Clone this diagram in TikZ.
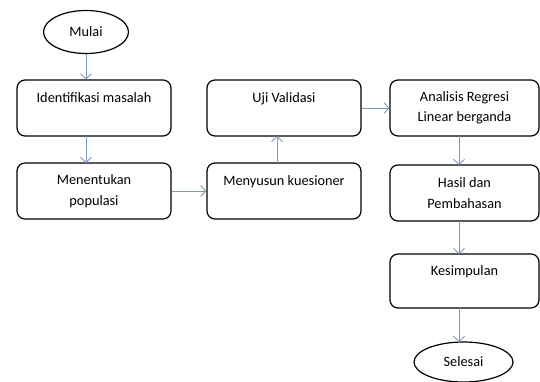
\documentclass[tikz,border=0pt]{standalone}
\usepackage{fontspec}
\setmainfont{Carlito}
\usetikzlibrary{shapes.geometric,arrows.meta}
\definecolor{arrowblue}{HTML}{7F98BC}
\begin{document}
\begin{tikzpicture}[x=1pt,y=-1pt,
  every node/.style={font=\fontsize{14.3}{20.5}\selectfont, inner sep=0pt},
  procbox/.style={draw=black, line width=1.2pt, rounded corners=8pt, minimum width=154pt, minimum height=56pt, align=center},
  termnode/.style={draw=black, line width=1.2pt, ellipse},
  conn/.style={draw=arrowblue, line width=0.9pt, -{Straight Barb[length=5pt,width=11pt]}}]
\useasboundingbox (0,0) rectangle (540,381);
\node[termnode, minimum width=85pt, minimum height=43pt] (mulai) at (86,32) {Mulai};
\node[procbox] (ident) at (94,108) {Identifikasi masalah\\~};
\node[procbox] (menentukan) at (94,191) {Menentukan\\populasi};
\node[procbox] (uji) at (284,108) {Uji Validasi\\~};
\node[procbox] (menyusun) at (284,191) {Menyusun kuesioner\\~};
\node[procbox, minimum width=149pt] (analisis) at (464.5,108) {Analisis Regresi\\Linear berganda};
\node[procbox, minimum width=149pt] (hasil) at (464.5,193) {Hasil dan\\Pembahasan};
\node[procbox, minimum width=149pt, minimum height=54pt] (kesimpulan) at (464.5,281) {Kesimpulan\\~};
\node[termnode, minimum width=99pt, minimum height=40pt] (selesai) at (463.5,362) {Selesai};
\draw[conn] (mulai.south) -- (mulai.south |- ident.north);
\draw[conn] (86,136) -- (86,163);
\draw[conn] (menentukan.east) -- (menyusun.west);
\draw[conn] (277,163) -- (277,136);
\draw[conn] (uji.east) -- (analisis.west);
\draw[conn] (459,136) -- (459,165);
\draw[conn] (459,221) -- (459,254);
\draw[conn] (459,308) -- (459,342);
\end{tikzpicture}
\end{document}
